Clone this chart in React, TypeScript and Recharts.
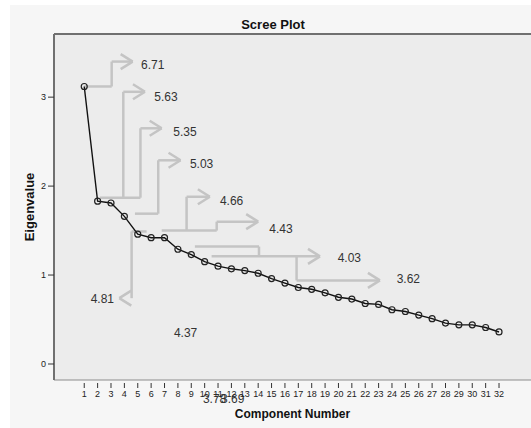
import React from 'react';
import { LineChart, Line, XAxis, YAxis, CartesianGrid, ReferenceLine, ReferenceDot } from 'recharts';

// ---- data ----
const components = [1, 2, 3, 4, 5, 6, 7, 8, 9, 10, 11, 12, 13, 14, 15, 16, 17, 18, 19, 20, 21, 22, 23, 24, 25, 26, 27, 28, 29, 30, 31, 32];
const eigenvalues = [3.12, 1.83, 1.81, 1.66, 1.46, 1.42, 1.42, 1.29, 1.23, 1.15, 1.1, 1.07, 1.05, 1.02, 0.96, 0.91, 0.86, 0.84, 0.8, 0.75, 0.73, 0.68, 0.67, 0.61, 0.59, 0.55, 0.51, 0.46, 0.44, 0.44, 0.41, 0.36];
const xTicks = components;
const yTicks = [0, 1, 2, 3];
const chartTitle = 'Scree Plot';
const xTitle = 'Component Number';
const yTitle = 'Eigenvalue';

// ---- annotations (in data coordinates) ----
type Arrow = { label: string; paths: number[][][]; tip: number[]; dir: 'left' | 'right'; text: number[] };
const arrows: Arrow[] = [
  { label: '6.71', paths: [[[1, 3.12], [3.05, 3.12], [3.05, 3.4], [4.62, 3.4]]], tip: [4.62, 3.4], dir: 'right', text: [5.24, 3.36] },
  { label: '5.63', paths: [[[3.92, 1.87], [3.92, 3.06], [5.54, 3.06]]], tip: [5.54, 3.06], dir: 'right', text: [6.23, 3.0] },
  { label: '5.35', paths: [[[2.17, 1.87], [5.2, 1.87], [5.2, 2.65], [6.79, 2.65]]], tip: [6.79, 2.65], dir: 'right', text: [7.65, 2.61] },
  { label: '5.03', paths: [[[4.79, 1.69], [6.53, 1.69], [6.53, 2.29], [8.2, 2.29]]], tip: [8.2, 2.29], dir: 'right', text: [8.9, 2.25] },
  { label: '4.66', paths: [[[8.65, 1.5], [8.65, 1.88], [10.39, 1.88]]], tip: [10.39, 1.88], dir: 'right', text: [11.14, 1.84] },
  { label: '4.43', paths: [[[6.79, 1.5], [10.9, 1.5], [10.9, 1.6], [14.0, 1.6]]], tip: [14.0, 1.6], dir: 'right', text: [14.83, 1.525] },
  { label: '4.81', paths: [[[5.66, 1.49], [4.54, 1.49], [4.54, 0.74]]], tip: [3.62, 0.74], dir: 'left', text: [1.48, 0.73] },
  { label: '4.03', paths: [[[9.27, 1.32], [14.06, 1.32], [14.06, 1.21]], [[10.52, 1.21], [18.62, 1.21]]], tip: [18.62, 1.21], dir: 'right', text: [19.94, 1.19] },
  { label: '3.62', paths: [[[16.87, 1.21], [16.87, 0.94], [23.1, 0.94]]], tip: [23.1, 0.94], dir: 'right', text: [24.35, 0.955] },
];
const freeLabels = ['4.37', '3.78', '3.69'];
const freeLabelPos = [[7.7, 0.352], [9.87, -0.393], [11.22, -0.393]];

// ---- layout ----
const W = 531;
const H = 428;
const MARGIN = { top: 34, right: 0, bottom: 0, left: 0 };
const Y_AXIS_W = 54;
const X_AXIS_H = 48;
const X_DOMAIN: [number, number] = [-1.26, 34.39];
const Y_DOMAIN: [number, number] = [-0.18, 3.71];
const PLOT_W = W - MARGIN.left - MARGIN.right - Y_AXIS_W;
const PLOT_H = H - MARGIN.top - MARGIN.bottom - X_AXIS_H;
const pxX = PLOT_W / (X_DOMAIN[1] - X_DOMAIN[0]);
const pxY = PLOT_H / (Y_DOMAIN[1] - Y_DOMAIN[0]);

const FONT = '"Liberation Sans", Arial, sans-serif';
const ANN = '#c4c4c4';

const data = components.map((c, i) => ({ component: c, eigenvalue: eigenvalues[i] }));

type Seg = [number[], number[]];
const segments: Seg[] = [];
arrows.forEach((a) => {
  a.paths.forEach((p) => {
    for (let i = 0; i < p.length - 1; i++) segments.push([p[i], p[i + 1]]);
  });
  const back = (a.dir === 'right' ? -12 : 12) / pxX;
  const spread = 7.5 / pxY;
  segments.push([[a.tip[0] + back, a.tip[1] + spread], a.tip]);
  segments.push([[a.tip[0] + back, a.tip[1] - spread], a.tip]);
});

const textLabels = [
  ...arrows.map((a) => ({ label: a.label, x: a.text[0], y: a.text[1] })),
  ...freeLabels.map((l, i) => ({ label: l, x: freeLabelPos[i][0], y: freeLabelPos[i][1] })),
];

const XTick = (props: any) => {
  const { x, y, payload } = props;
  return (
    <g>
      <line x1={x} x2={x} y1={y - 5} y2={y} stroke="#333" strokeWidth={1} />
      <text x={x} y={y + 8.5} textAnchor="middle" fontSize={9} fontFamily={FONT} fill="#222">
        {payload.value}
      </text>
    </g>
  );
};

export default function App() {
  return (
    <div style={{ position: 'absolute', left: 0, top: 0, width: W, height: H, background: '#ffffff' }}>
      <div style={{ position: 'absolute', left: 10, top: 5, width: W - 10, height: H - 5, background: '#f6f6f6' }} />
      <div
        style={{
          position: 'absolute',
          left: 0,
          top: 18,
          width: 546,
          textAlign: 'center',
          fontFamily: FONT,
          fontWeight: 'bold',
          fontSize: 13,
          lineHeight: '14px',
          color: '#111',
        }}
      >
        {chartTitle}
      </div>
      <div style={{ position: 'absolute', left: 0, top: 0 }}>
        <LineChart width={W} height={H} data={data} margin={MARGIN}>
          <CartesianGrid horizontal={false} vertical={false} fill="#ececec" />
          <XAxis
            dataKey="component"
            type="number"
            domain={X_DOMAIN}
            allowDataOverflow
            ticks={xTicks}
            interval={0}
            height={X_AXIS_H}
            tickSize={8}
            tickMargin={0}
            tickLine={false}
            axisLine={{ stroke: '#8c8c8c', strokeWidth: 1 }}
            tick={<XTick />}
            label={{
              content: (p: any) => {
                const vb = p.viewBox || {};
                return (
                  <text
                    x={vb.x + vb.width / 2}
                    y={vb.y + 37.5}
                    textAnchor="middle"
                    fontFamily={FONT}
                    fontWeight="bold"
                    fontSize={12}
                    fill="#111"
                  >
                    {xTitle}
                  </text>
                );
              },
            }}
          />
          <YAxis
            type="number"
            domain={Y_DOMAIN}
            allowDataOverflow
            ticks={yTicks}
            width={Y_AXIS_W}
            tickSize={6}
            tickMargin={2}
            tickLine={{ stroke: '#333' }}
            axisLine={{ stroke: '#707070', strokeWidth: 2 }}
            tick={{ fontSize: 9, fontFamily: FONT, fill: '#222' }}
            label={{
              content: (p: any) => {
                const vb = p.viewBox || {};
                const cx = vb.x + 29;
                const cy = vb.y + vb.height / 2;
                return (
                  <text
                    x={cx}
                    y={cy}
                    transform={`rotate(-90 ${cx} ${cy})`}
                    textAnchor="middle"
                    dy="0.35em"
                    fontFamily={FONT}
                    fontWeight="bold"
                    fontSize={13}
                    fill="#111"
                  >
                    {yTitle}
                  </text>
                );
              },
            }}
          />
          <ReferenceLine y={Y_DOMAIN[1]} stroke="#707070" strokeWidth={2} />
          {segments.map((s, i) => (
            <ReferenceLine
              key={`seg-${i}`}
              segment={[
                { x: s[0][0], y: s[0][1] },
                { x: s[1][0], y: s[1][1] },
              ]}
              stroke={ANN}
              strokeWidth={2.5}
              ifOverflow="visible"
            />
          ))}
          {textLabels.map((t, i) => (
            <ReferenceDot
              key={`lab-${i}`}
              x={t.x}
              y={t.y}
              r={1}
              ifOverflow="visible"
              shape={(p: any) => (
                <text x={p.cx} y={p.cy} dy="0.35em" textAnchor="start" fontFamily={FONT} fontSize={12} fill="#333">
                  {t.label}
                </text>
              )}
            />
          ))}
          <Line
            dataKey="eigenvalue"
            stroke="#111"
            strokeWidth={1.4}
            dot={{ r: 3, stroke: '#222', strokeWidth: 1.2, fill: 'transparent' }}
            isAnimationActive={false}
          />
        </LineChart>
      </div>
    </div>
  );
}
